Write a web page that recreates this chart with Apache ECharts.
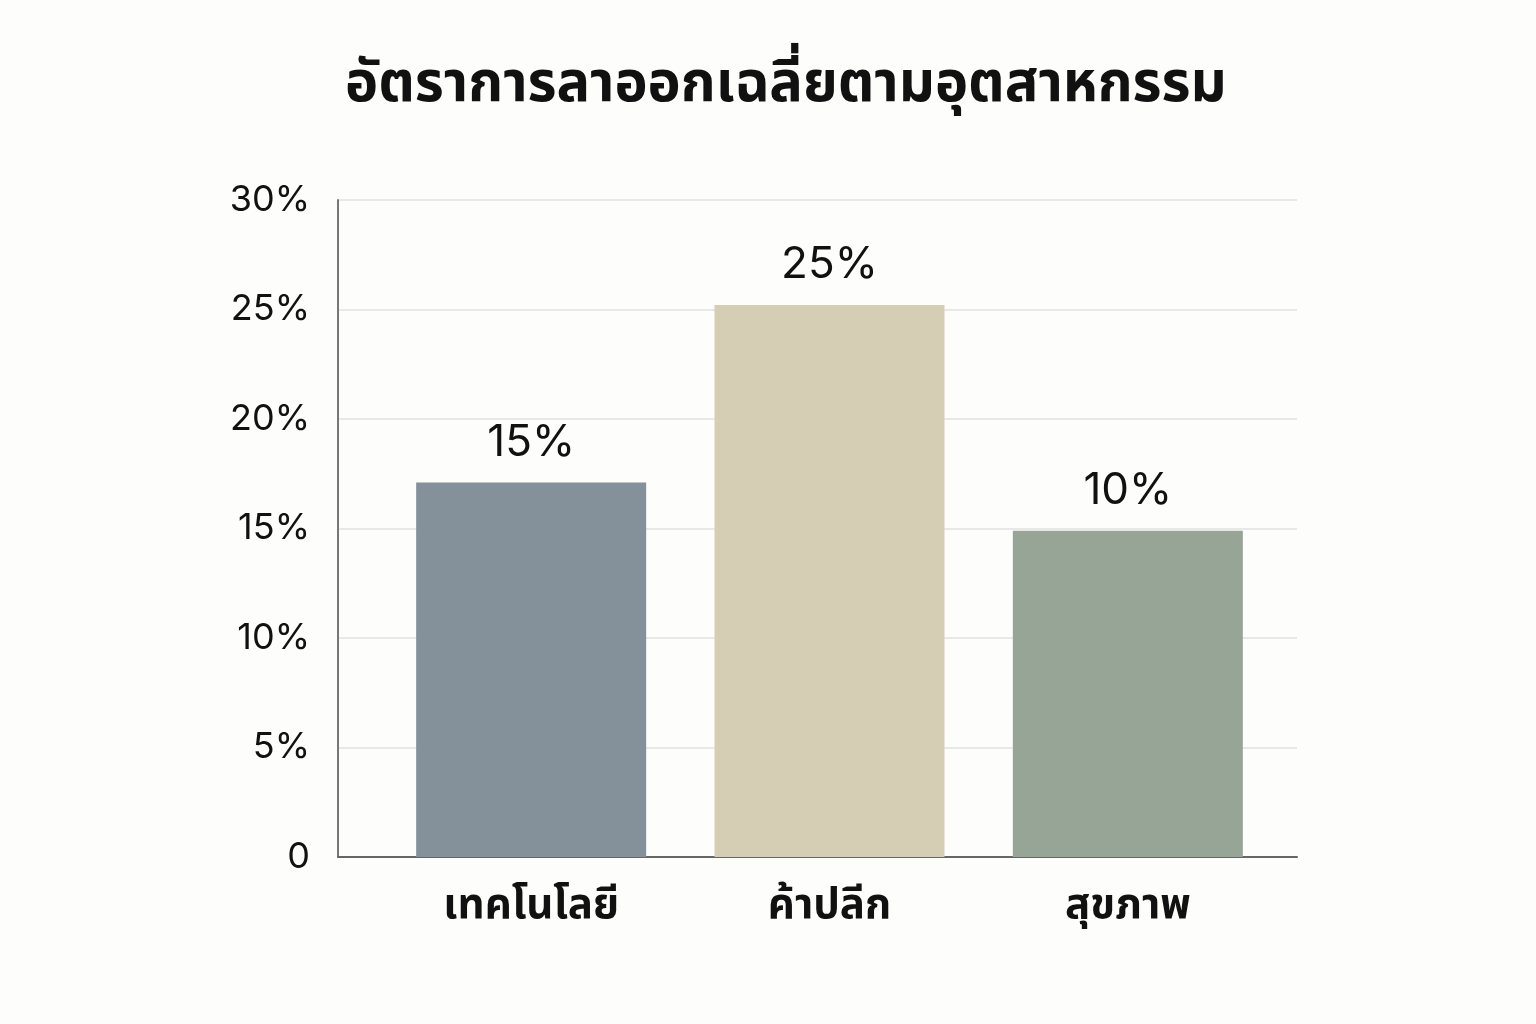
<!DOCTYPE html>
<html>
<head>
<meta charset="utf-8">
<script src="https://cdn.jsdelivr.net/npm/echarts@6/dist/echarts.min.js"></script>
<style>
html,body{margin:0;padding:0;background:#fdfdfb;}
#c{width:1536px;height:1024px;}
</style>
</head>
<body>
<div id="c"></div>
<script>
const titleText = 'อัตราการลาออกเฉลี่ยตามอุตสาหกรรม';
const categories = ['เทคโนโลยี', 'ค้าปลีก', 'สุขภาพ'];
const barValues = [17.1, 25.2, 14.9];
const barLabels = ['15%', '25%', '10%'];
const barColors = ['#84909a', '#d6cdb5', '#97a597'];
const yTicks = [0, 5, 10, 15, 20, 25, 30];

const FONT = '"Noto Sans Thai", "Noto Sans", "Liberation Sans", sans-serif';
const NUMFONT = 'Inter, "Liberation Sans", sans-serif';
const chart = echarts.init(document.getElementById('c'));
chart.setOption({
  backgroundColor: '#fdfdfb',
  title: {
    text: titleText,
    left: 340,
    top: 57,
    textStyle: {fontFamily: FONT, fontSize: 56, fontWeight: 'bold', color: '#111'}
  },
  grid: [
    {left: 338, right: 239, top: 200, bottom: 167},
    {left: 382, right: 259, top: 200, bottom: 167}
  ],
  xAxis: [
    {gridIndex: 0, type: 'category', data: categories.map(() => ''),
     axisLine: {lineStyle: {color: '#666', width: 2}}, axisTick: {show: false}, axisLabel: {show: false}},
    {gridIndex: 1, type: 'category', data: categories,
     axisLine: {show: false}, axisTick: {show: false},
     axisLabel: {margin: 32, fontFamily: FONT, fontSize: 42, fontWeight: 'bold', color: '#111'}}
  ],
  yAxis: [
    {gridIndex: 0, type: 'value', min: yTicks[0], max: yTicks[yTicks.length - 1], interval: 5,
     axisLine: {show: true, lineStyle: {color: '#777', width: 2}}, axisTick: {show: false},
     axisLabel: {margin: 28, fontFamily: NUMFONT, fontSize: 36, color: '#111',
       formatter: v => v === 0 ? '0' : v + '%'},
     splitLine: {lineStyle: {color: '#e0e0e0', width: 1.5}}},
    {gridIndex: 1, type: 'value', min: 0, max: 30, show: false}
  ],
  series: [{
    type: 'bar',
    xAxisIndex: 1, yAxisIndex: 1,
    barWidth: 230,
    data: barValues.map((v, i) => ({value: v, itemStyle: {color: barColors[i]}})),
    label: {show: true, position: 'top', distance: 18,
      fontFamily: NUMFONT, fontSize: 44, color: '#111',
      formatter: p => barLabels[p.dataIndex]},
    animation: false
  }],
  animation: false
});
</script>
</body>
</html>
